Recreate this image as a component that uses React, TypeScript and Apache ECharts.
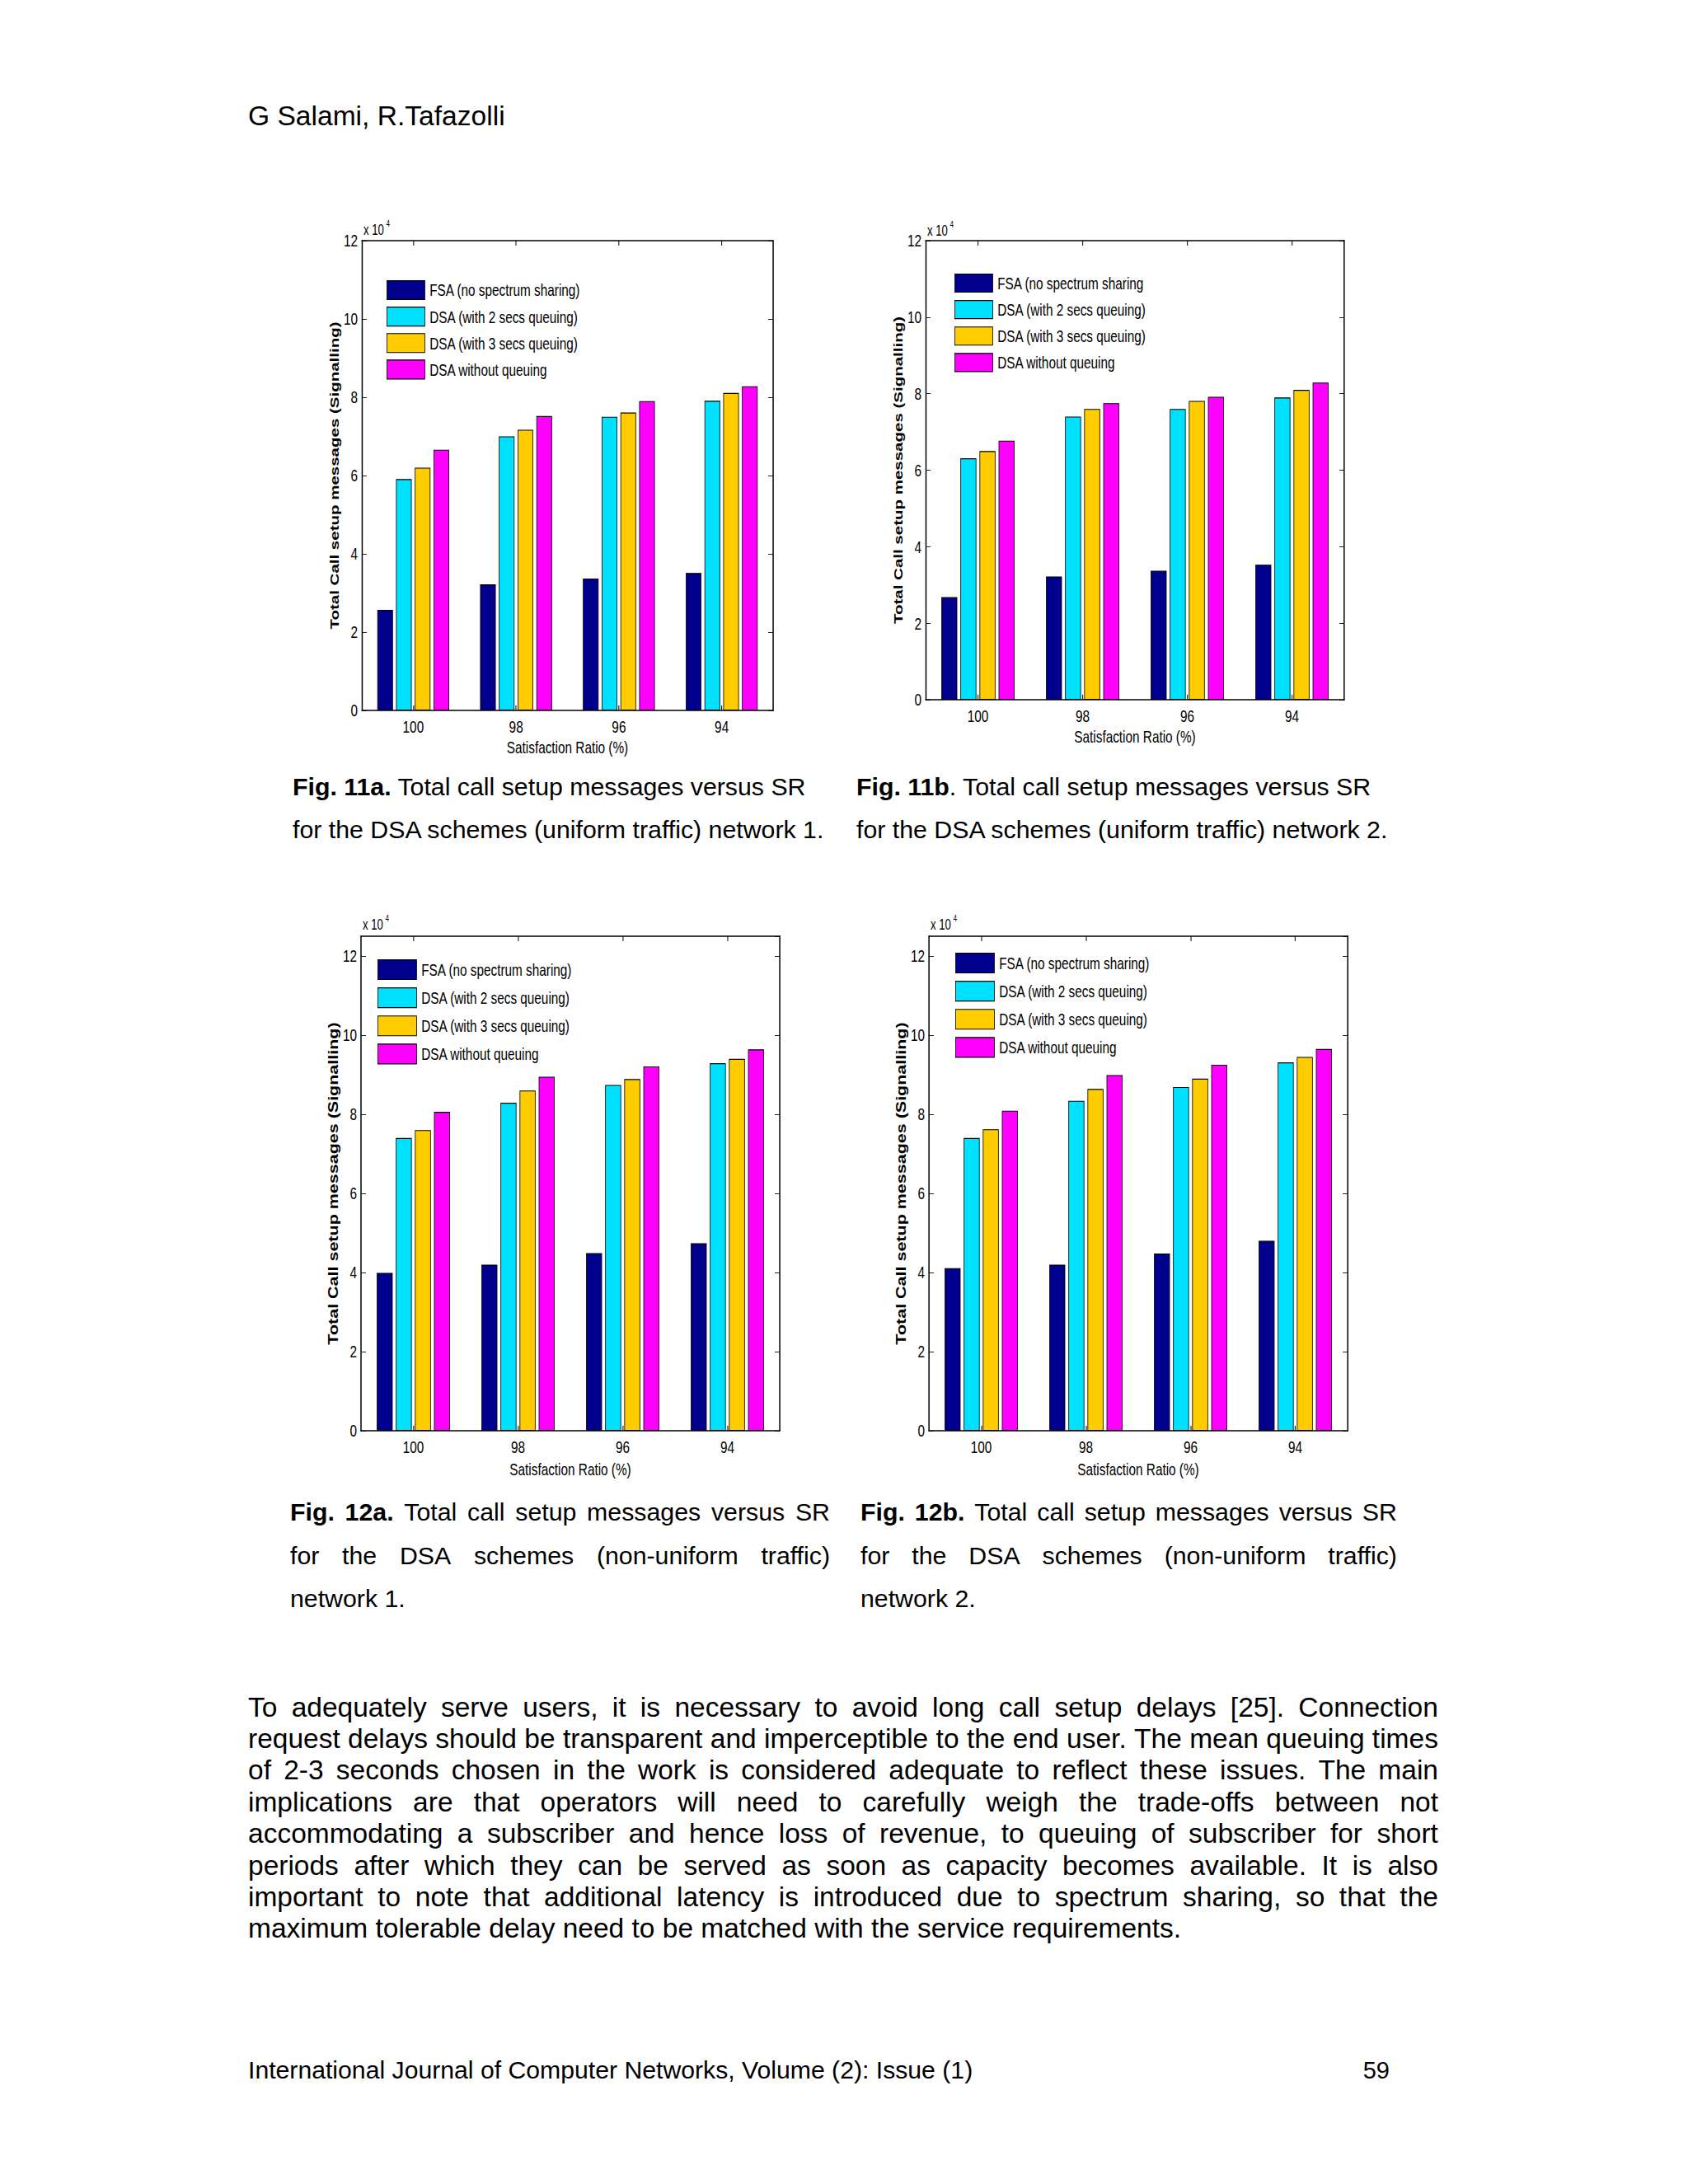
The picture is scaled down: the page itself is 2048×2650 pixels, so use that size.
import React, { useEffect, useRef } from "react";
import * as echarts from "echarts";

// ---------- DATA (values in units of 10^4) ----------
const categories = ["100", "98", "96", "94"];
const xTitle = "Satisfaction Ratio (%)";
const yTitle = "Total Call setup messages (Signalling)";

const legendNamesA = [
  "FSA (no spectrum sharing)",
  "DSA (with 2 secs queuing)",
  "DSA (with 3 secs queuing)",
  "DSA without queuing",
];
const legendNamesB = [
  "FSA (no spectrum sharing",
  "DSA (with 2 secs queuing)",
  "DSA (with 3 secs queuing)",
  "DSA without queuing",
];

const fig11aFSA = [2.57, 3.22, 3.37, 3.51];
const fig11aDSA2 = [5.91, 7.0, 7.5, 7.91];
const fig11aDSA3 = [6.2, 7.17, 7.61, 8.11];
const fig11aNoQ = [6.66, 7.52, 7.9, 8.28];

const fig11bFSA = [2.68, 3.22, 3.37, 3.53];
const fig11bDSA2 = [6.31, 7.4, 7.6, 7.9];
const fig11bDSA3 = [6.5, 7.6, 7.81, 8.1];
const fig11bNoQ = [6.77, 7.75, 7.92, 8.29];

const fig12aFSA = [3.99, 4.2, 4.49, 4.74];
const fig12aDSA2 = [7.4, 8.29, 8.74, 9.29];
const fig12aDSA3 = [7.6, 8.6, 8.89, 9.4];
const fig12aNoQ = [8.06, 8.95, 9.21, 9.64];

const fig12bFSA = [4.11, 4.2, 4.48, 4.8];
const fig12bDSA2 = [7.4, 8.34, 8.69, 9.31];
const fig12bDSA3 = [7.62, 8.64, 8.9, 9.45];
const fig12bNoQ = [8.09, 8.99, 9.25, 9.65];

const yMaxUniform = 12;
const yMaxNonUniform = 12.5;
const yInterval = 2;

const headerText = "G Salami, R.Tafazolli";
const footerText = "International Journal of Computer Networks, Volume (2): Issue (1)";
const pageNumber = "59";

const bodyLines = [
  "To adequately serve users, it is necessary to avoid long call setup delays [25]. Connection",
  "request delays should be transparent and imperceptible to the end user. The mean queuing times",
  "of 2-3 seconds chosen in the work is considered adequate to reflect these issues. The main",
  "implications are that operators will need to carefully weigh the trade-offs between not",
  "accommodating a subscriber and hence loss of revenue, to queuing of subscriber for short",
  "periods after which they can be served as soon as capacity becomes available. It is also",
  "important to note that additional latency is introduced due to spectrum sharing, so that the",
  "maximum tolerable delay need to be matched with the service requirements.",
];

// ---------- STYLE / LAYOUT ----------
const COLORS = ["#00008C", "#00E1FF", "#FFCC00", "#FF00FF"];
const SANS = '"Liberation Sans", Arial, Helvetica, sans-serif';
// The original figures are horizontally condensed; the chart layer is drawn
// wider and squeezed with a CSS scaleX so the texts look condensed too.
const SQ = 0.73;
const X = (v: number) => v / SQ;

type Panel = {
  left: number; top: number; width: number; height: number; max: number;
  names: string[]; values: number[][];
  lg: { left: number; top: number; w: number; h: number; gap: number };
  x10: { x: number; y: number };
  nameGapX: number; yNameSize: number;
};

const panels: Panel[] = [
  {
    left: 439, top: 292, width: 499, height: 570, max: yMaxUniform,
    names: legendNamesA, values: [fig11aFSA, fig11aDSA2, fig11aDSA3, fig11aNoQ],
    lg: { left: 469, top: 340, w: 46, h: 23, gap: 8 },
    x10: { x: 441, y: 288 }, nameGapX: 35, yNameSize: 20.5,
  },
  {
    left: 1123, top: 292, width: 508, height: 557, max: yMaxUniform,
    names: legendNamesB, values: [fig11bFSA, fig11bDSA2, fig11bDSA3, fig11bNoQ],
    lg: { left: 1158, top: 332, w: 46, h: 22, gap: 9 },
    x10: { x: 1125, y: 289 }, nameGapX: 35, yNameSize: 20.5,
  },
  {
    left: 438, top: 1136, width: 508, height: 600, max: yMaxNonUniform,
    names: legendNamesA, values: [fig12aFSA, fig12aDSA2, fig12aDSA3, fig12aNoQ],
    lg: { left: 458, top: 1164, w: 47, h: 24, gap: 9 },
    x10: { x: 440, y: 1131 }, nameGapX: 37, yNameSize: 21.5,
  },
  {
    left: 1127, top: 1136, width: 508, height: 600, max: yMaxNonUniform,
    names: legendNamesA, values: [fig12bFSA, fig12bDSA2, fig12bDSA3, fig12bNoQ],
    lg: { left: 1159, top: 1156, w: 47, h: 24, gap: 9 },
    x10: { x: 1129, y: 1131 }, nameGapX: 37, yNameSize: 21.5,
  },
];

function buildOption() {
  const xLine = { show: true, onZero: false, lineStyle: { color: "#000", width: 1.5 } };
  const yLine = { show: true, onZero: false, lineStyle: { color: "#000", width: 1.5 / SQ } };
  const xTick = { show: true, inside: true, length: 6, lineStyle: { color: "#000", width: 1 / SQ } };
  const yTick = { show: true, inside: true, length: X(6), lineStyle: { color: "#000", width: 1 } };
  const labelFont = { color: "#000", fontSize: 21, fontFamily: SANS };
  const grid: any[] = [];
  const xAxis: any[] = [];
  const yAxis: any[] = [];
  const series: any[] = [];
  const legend: any[] = [];
  const graphic: any[] = [];

  panels.forEach((p, i) => {
    grid.push({ left: X(p.left), top: p.top, width: X(p.width), height: p.height, containLabel: false });
    xAxis.push({
      type: "category", gridIndex: i, data: categories, position: "bottom",
      axisLine: xLine, axisTick: { ...xTick, alignWithLabel: true },
      axisLabel: { ...labelFont, margin: 9 },
      splitLine: { show: false },
      name: xTitle, nameLocation: "middle", nameGap: p.nameGapX - 1,
      nameTextStyle: { ...labelFont },
    });
    xAxis.push({
      type: "category", gridIndex: i, data: categories, position: "top",
      axisLine: xLine, axisTick: { ...xTick, alignWithLabel: true },
      axisLabel: { show: false }, splitLine: { show: false },
    });
    yAxis.push({
      type: "value", gridIndex: i, min: 0, max: p.max, interval: yInterval, position: "left",
      axisLine: yLine, axisTick: yTick, splitLine: { show: false },
      axisLabel: { ...labelFont, margin: X(5), showMaxLabel: p.max === yMaxUniform },
      name: yTitle, nameLocation: "middle", nameRotate: 90, nameGap: X(24),
      nameTextStyle: { color: "#000", fontSize: p.yNameSize, fontWeight: "bold", fontFamily: SANS },
    });
    yAxis.push({
      type: "value", gridIndex: i, min: 0, max: p.max, interval: yInterval, position: "right",
      axisLine: yLine, axisTick: yTick, splitLine: { show: false }, axisLabel: { show: false },
    });
    p.values.forEach((vals, k) => {
      series.push({
        type: "bar", name: p.names[k], xAxisIndex: i * 2, yAxisIndex: i * 2,
        data: vals, barWidth: "15.2%", barGap: "20%",
        itemStyle: { color: COLORS[k], borderColor: "#000", borderWidth: 1.1 },
        emphasis: { disabled: true },
      });
    });
    legend.push({
      orient: "vertical", left: X(p.lg.left), top: p.lg.top, padding: 0,
      itemWidth: X(p.lg.w), itemHeight: p.lg.h, itemGap: p.lg.gap, icon: "rect",
      selectedMode: false, data: p.names,
      itemStyle: { borderColor: "#000", borderWidth: 1.1 },
      textStyle: { color: "#000", fontSize: 21, fontFamily: SANS, padding: [0, 0, 0, 3] },
    });
    graphic.push({
      type: "text", x: X(p.x10.x), y: p.x10.y,
      style: { text: "x 10", font: `18px ${SANS}`, fill: "#000", verticalAlign: "bottom" },
    });
    graphic.push({
      type: "text", x: X(p.x10.x + 27.5), y: p.x10.y - 12,
      style: { text: "4", font: `11px ${SANS}`, fill: "#000", verticalAlign: "bottom" },
    });
  });

  return { animation: false, backgroundColor: "transparent", grid, xAxis, yAxis, series, legend, graphic };
}

// ---------- TEXT HELPERS ----------
type Word = { w: string; b?: boolean };

function topFor(baseline: number, size: number) {
  return baseline - 0.8465 * size;
}

function JustLine(props: { x: number; baseline: number; size: number; width: number; words: Word[] }) {
  const { x, baseline, size, width, words } = props;
  return (
    <div
      style={{
        position: "absolute", left: x, top: topFor(baseline, size), width,
        fontSize: size, lineHeight: `${size}px`, display: "flex",
        justifyContent: "space-between", whiteSpace: "nowrap",
      }}
    >
      {words.map((wd, i) => (
        <span key={i} style={{ fontWeight: wd.b ? "bold" : "normal" }}>{wd.w}</span>
      ))}
    </div>
  );
}

function PlainLine(props: { x: number; baseline: number; size: number; children: React.ReactNode; right?: boolean }) {
  const { x, baseline, size, children, right } = props;
  const style: React.CSSProperties = {
    position: "absolute", top: topFor(baseline, size), fontSize: size,
    lineHeight: `${size}px`, whiteSpace: "pre",
  };
  if (right) { style.right = 2048 - x; style.textAlign = "right"; } else { style.left = x; }
  return <div style={style}>{children}</div>;
}

function words(s: string, boldCount = 0): Word[] {
  return s.split(" ").map((w, i) => ({ w, b: i < boldCount }));
}

export default function App() {
  const ref = useRef<HTMLDivElement>(null);
  useEffect(() => {
    const chart = echarts.init(ref.current!, null, { renderer: "svg" });
    chart.setOption(buildOption() as any);
    return () => chart.dispose();
  }, []);

  const capSize = 30.3;
  const bodySize = 33.5;
  const bodyBase = 2083;
  const bodyStep = 38.4;

  return (
    <div
      style={{
        position: "absolute", left: 0, top: 0, width: 2048, height: 2650,
        background: "#fff", color: "#000", fontFamily: SANS, overflow: "hidden",
      }}
    >
      <div
        ref={ref}
        style={{
          position: "absolute", left: 0, top: 0, width: X(2048), height: 2650,
          transform: `scaleX(${SQ})`, transformOrigin: "0 0",
        }}
      />

      <PlainLine x={301} baseline={152} size={33.6}>{headerText}</PlainLine>

      {/* Fig 11a caption */}
      <PlainLine x={355} baseline={966} size={capSize}>
        <b>Fig. 11a.</b> Total call setup messages versus SR
      </PlainLine>
      <PlainLine x={355} baseline={1018} size={capSize}>
        for the DSA schemes (uniform traffic) network 1.
      </PlainLine>

      {/* Fig 11b caption */}
      <PlainLine x={1039} baseline={966} size={capSize}>
        <b>Fig. 11b</b>. Total call setup messages versus SR
      </PlainLine>
      <PlainLine x={1039} baseline={1018} size={capSize}>
        for the DSA schemes (uniform traffic) network 2.
      </PlainLine>

      {/* Fig 12a caption */}
      <JustLine x={352} baseline={1846} size={capSize} width={655}
        words={words("Fig. 12a. Total call setup messages versus SR", 2)} />
      <JustLine x={352} baseline={1899} size={capSize} width={655}
        words={words("for the DSA schemes (non-uniform traffic)")} />
      <PlainLine x={352} baseline={1951} size={capSize}>network 1.</PlainLine>

      {/* Fig 12b caption */}
      <JustLine x={1044} baseline={1846} size={capSize} width={651}
        words={words("Fig. 12b. Total call setup messages versus SR", 2)} />
      <JustLine x={1044} baseline={1899} size={capSize} width={651}
        words={words("for the DSA schemes (non-uniform traffic)")} />
      <PlainLine x={1044} baseline={1951} size={capSize}>network 2.</PlainLine>

      {/* Body paragraph */}
      {bodyLines.map((ln, i) =>
        i < bodyLines.length - 1 ? (
          <JustLine key={i} x={301} baseline={bodyBase + i * bodyStep} size={bodySize} width={1444} words={words(ln)} />
        ) : (
          <PlainLine key={i} x={301} baseline={bodyBase + i * bodyStep} size={bodySize}>{ln}</PlainLine>
        )
      )}

      {/* Footer */}
      <PlainLine x={301} baseline={2523} size={30.2}>{footerText}</PlainLine>
      <PlainLine x={1686} baseline={2523} size={29} right>{pageNumber}</PlainLine>
    </div>
  );
}
